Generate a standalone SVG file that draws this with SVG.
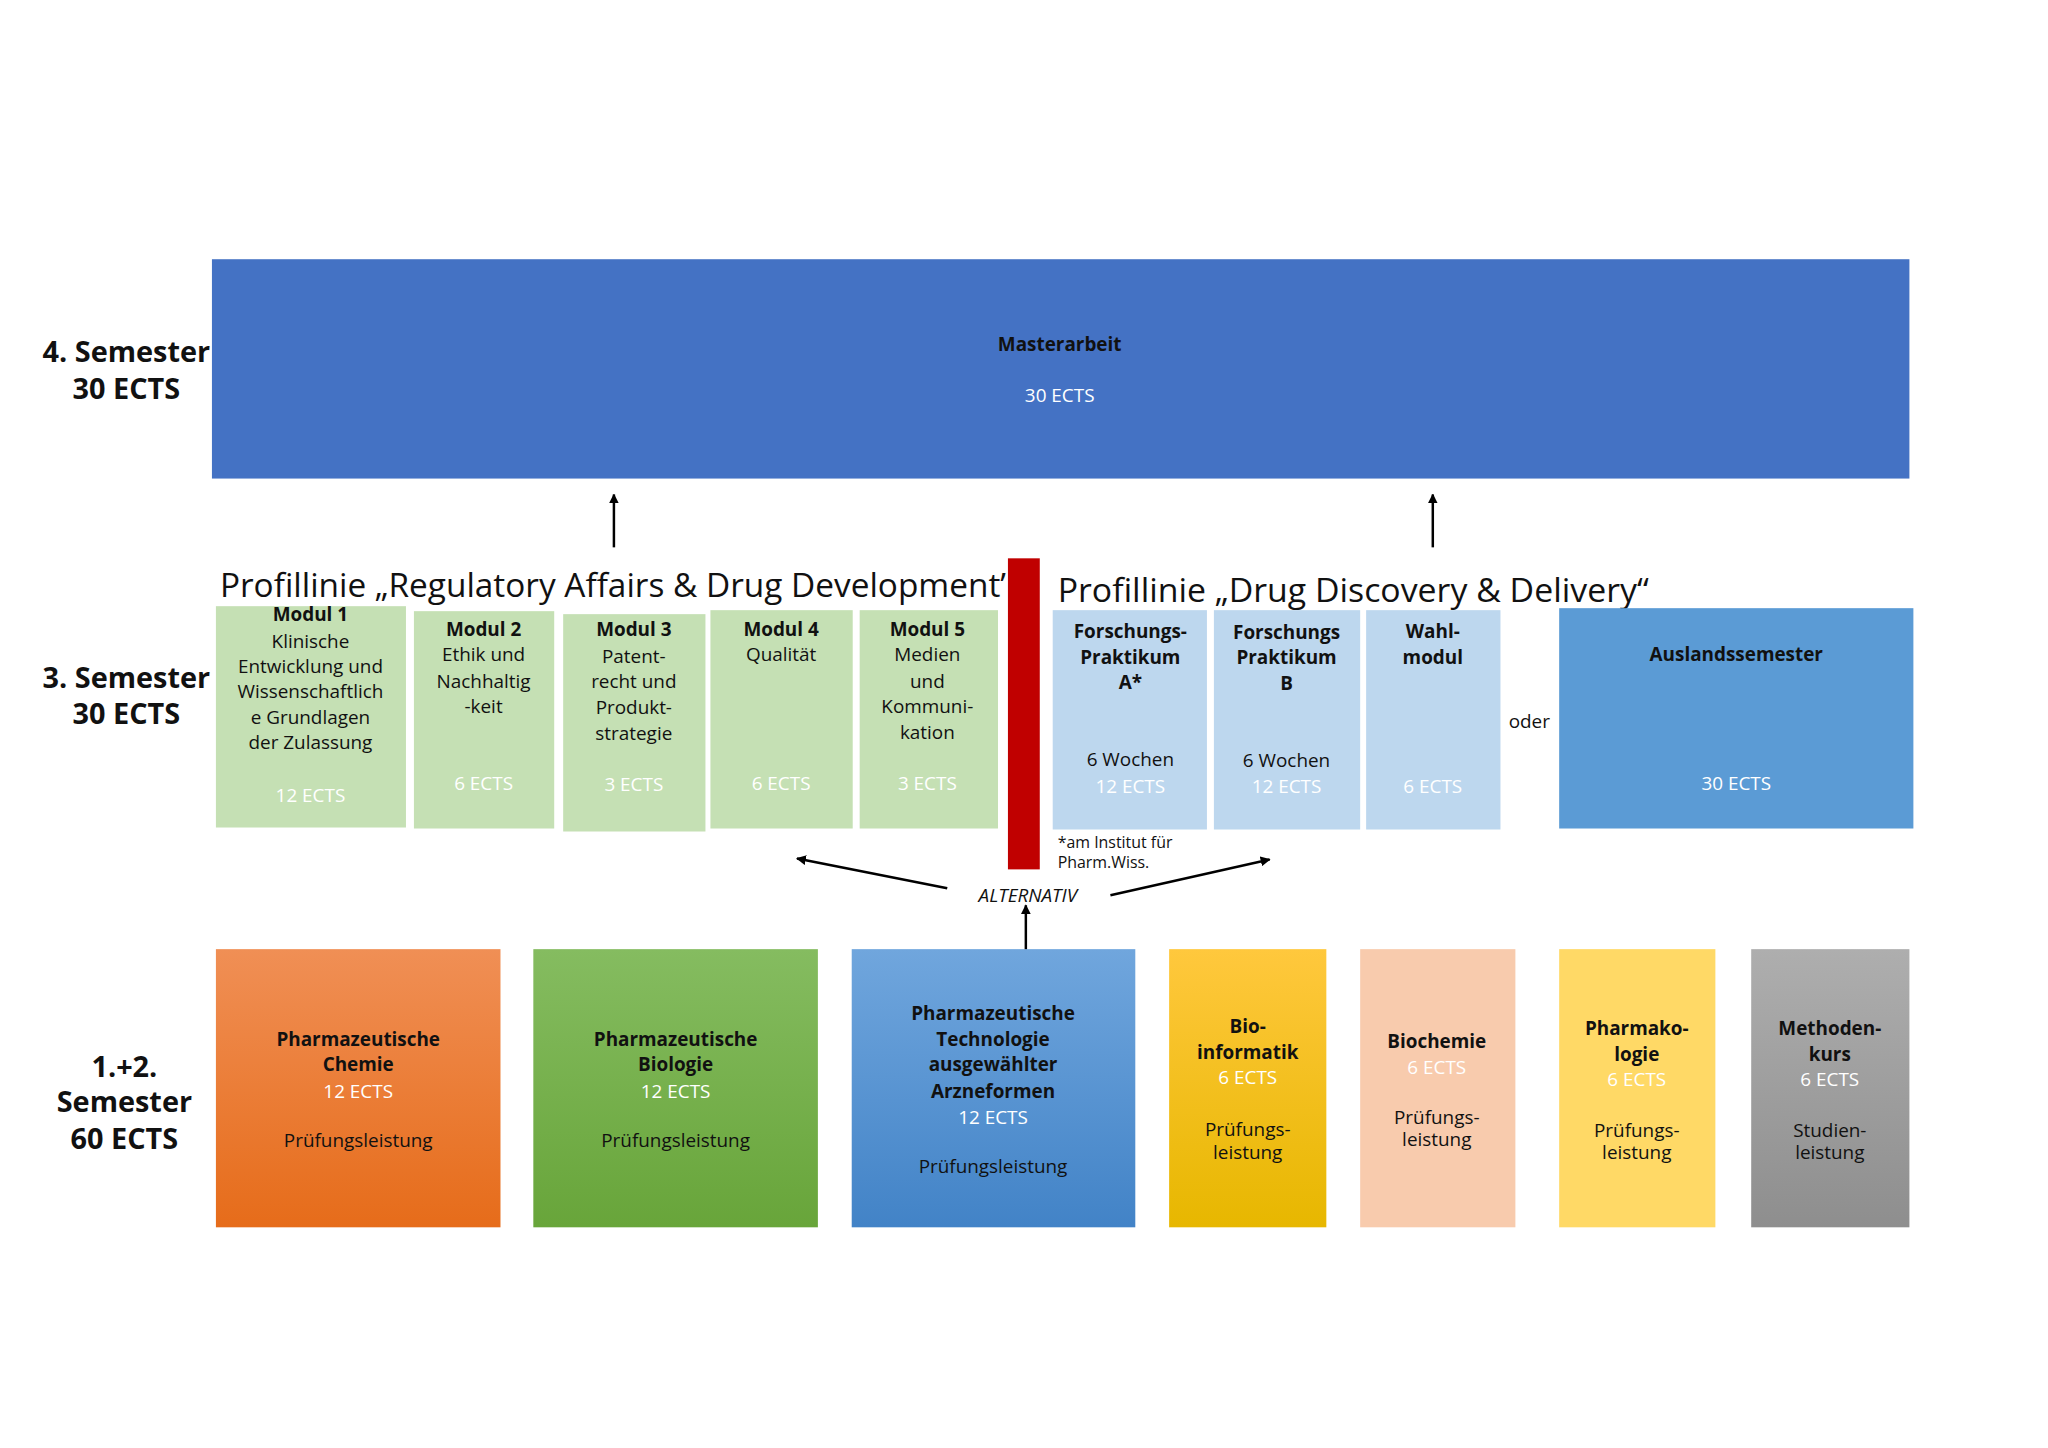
<svg xmlns="http://www.w3.org/2000/svg" width="2048" height="1448" viewBox="0 0 2048 1448">
<style>
text{font-family:"Open Sans","Liberation Sans",sans-serif;text-anchor:middle;dominant-baseline:central;fill:#111}
.t{font-size:19px}
.b{font-weight:bold}
.w{fill:#fff}
.sem{font-size:29px;font-weight:bold}
.title{font-size:33px;text-anchor:start}
.ln{stroke:#000;stroke-width:2.5;fill:none;marker-end:url(#ah)}
</style>
<defs>
<marker id="ah" markerWidth="10" markerHeight="10" refX="9" refY="5" orient="auto" markerUnits="userSpaceOnUse"><path d="M0,0 L10,5 L0,10 z" fill="#000"/></marker>
<linearGradient id="gO" x1="0" y1="0" x2="0" y2="1"><stop offset="0" stop-color="#F08F55"/><stop offset="1" stop-color="#E66C1A"/></linearGradient>
<linearGradient id="gG" x1="0" y1="0" x2="0" y2="1"><stop offset="0" stop-color="#85BC60"/><stop offset="1" stop-color="#68A53A"/></linearGradient>
<linearGradient id="gB" x1="0" y1="0" x2="0" y2="1"><stop offset="0" stop-color="#70A6DD"/><stop offset="1" stop-color="#4283C7"/></linearGradient>
<linearGradient id="gY" x1="0" y1="0" x2="0" y2="1"><stop offset="0" stop-color="#FFC83D"/><stop offset="1" stop-color="#E7B700"/></linearGradient>
<linearGradient id="gS" x1="0" y1="0" x2="0" y2="1"><stop offset="0" stop-color="#AEAEAE"/><stop offset="1" stop-color="#8E8E8E"/></linearGradient>
</defs>
<rect width="2048" height="1448" fill="#fff"/>
<g transform="scale(0.995,0.997)">
<g id="labels">
<text class="sem" x="127" y="352">4. Semester</text><text class="sem" x="127" y="389">30 ECTS</text>
<text class="sem" x="127" y="679">3. Semester</text><text class="sem" x="127" y="715">30 ECTS</text>
<text class="sem" x="125" y="1069">1.+2.</text><text class="sem" x="125" y="1104">Semester</text><text class="sem" x="125" y="1141">60 ECTS</text>
<text class="title" x="221" y="586" textLength="790" lengthAdjust="spacingAndGlyphs">Profillinie „Regulatory Affairs &amp; Drug Development’</text>
<text class="title" x="1063" y="591" textLength="594" lengthAdjust="spacingAndGlyphs">Profillinie „Drug Discovery &amp; Delivery“</text>
<text class="t" x="1537" y="723">oder</text>
<text style="font-size:16px;text-anchor:start" x="1063" y="845">*am Institut für</text>
<text style="font-size:16px;text-anchor:start" x="1063" y="865">Pharm.Wiss.</text>
<text class="t" style="font-style:italic" x="1033" y="898">ALTERNATIV</text>
</g>

<g id="masterarbeit"><rect x="213" y="260" width="1706" height="220" fill="#4472C4"/>
<text class="t b" x="1065" y="345">Masterarbeit</text><text class="t w" x="1065" y="396">30 ECTS</text></g>

<rect id="divider" x="1013" y="560" width="32" height="312" fill="#C00000"/>

<g id="modul1"><rect x="217" y="608" width="191" height="222" fill="#C5E0B4"/>
<text class="t b" x="312" y="616">Modul 1</text><text class="t" x="312" y="643">Klinische</text><text class="t" x="312" y="668">Entwicklung und</text><text class="t" x="312" y="693">Wissenschaftlich</text><text class="t" x="312" y="719">e Grundlagen</text><text class="t" x="312" y="744">der Zulassung</text><text class="t w" x="312" y="797">12 ECTS</text></g>
<g id="modul2"><rect x="416" y="613" width="141" height="218" fill="#C5E0B4"/>
<text class="t b" x="486" y="631">Modul 2</text><text class="t" x="486" y="656">Ethik und</text><text class="t" x="486" y="683">Nachhaltig</text><text class="t" x="486" y="708">-keit</text><text class="t w" x="486" y="785">6 ECTS</text></g>
<g id="modul3"><rect x="566" y="616" width="143" height="218" fill="#C5E0B4"/>
<text class="t b" x="637" y="631">Modul 3</text><text class="t" x="637" y="658">Patent-</text><text class="t" x="637" y="683">recht und</text><text class="t" x="637" y="709">Produkt-</text><text class="t" x="637" y="735">strategie</text><text class="t w" x="637" y="786">3 ECTS</text></g>
<g id="modul4"><rect x="714" y="612" width="143" height="219" fill="#C5E0B4"/>
<text class="t b" x="785" y="631">Modul 4</text><text class="t" x="785" y="656">Qualität</text><text class="t w" x="785" y="785">6 ECTS</text></g>
<g id="modul5"><rect x="864" y="612" width="139" height="219" fill="#C5E0B4"/>
<text class="t b" x="932" y="631">Modul 5</text><text class="t" x="932" y="656">Medien</text><text class="t" x="932" y="683">und</text><text class="t" x="932" y="708">Kommuni-</text><text class="t" x="932" y="734">kation</text><text class="t w" x="932" y="785">3 ECTS</text></g>

<g id="forschA"><rect x="1058" y="612" width="155" height="220" fill="#BDD7EE"/>
<text class="t b" x="1136" y="633">Forschungs-</text><text class="t b" x="1136" y="659">Praktikum</text><text class="t b" x="1136" y="684">A*</text><text class="t" x="1136" y="761">6 Wochen</text><text class="t w" x="1136" y="788">12  ECTS</text></g>
<g id="forschB"><rect x="1220" y="612" width="147" height="220" fill="#BDD7EE"/>
<text class="t b" x="1293" y="634">Forschungs</text><text class="t b" x="1293" y="659">Praktikum</text><text class="t b" x="1293" y="685">B</text><text class="t" x="1293" y="762">6 Wochen</text><text class="t w" x="1293" y="788">12  ECTS</text></g>
<g id="wahl"><rect x="1373" y="612" width="135" height="220" fill="#BDD7EE"/>
<text class="t b" x="1440" y="633">Wahl-</text><text class="t b" x="1440" y="659">modul</text><text class="t w" x="1440" y="788">6  ECTS</text></g>
<g id="ausland"><rect x="1567" y="610" width="356" height="221" fill="#5B9BD5"/>
<text class="t b" x="1745" y="656">Auslandssemester</text><text class="t w" x="1745" y="785">30 ECTS</text></g>

<g id="chemie"><rect x="217" y="952" width="286" height="279" fill="url(#gO)"/>
<text class="t b" x="360" y="1042">Pharmazeutische</text><text class="t b" x="360" y="1067">Chemie</text><text class="t w" x="360" y="1094">12 ECTS</text><text class="t" x="360" y="1143">Prüfungsleistung</text></g>
<g id="biologie"><rect x="536" y="952" width="286" height="279" fill="url(#gG)"/>
<text class="t b" x="679" y="1042">Pharmazeutische</text><text class="t b" x="679" y="1067">Biologie</text><text class="t w" x="679" y="1094">12 ECTS</text><text class="t" x="679" y="1143">Prüfungsleistung</text></g>
<g id="technologie"><rect x="856" y="952" width="285" height="279" fill="url(#gB)"/>
<text class="t b" x="998" y="1016">Pharmazeutische</text><text class="t b" x="998" y="1042">Technologie</text><text class="t b" x="998" y="1067">ausgewählter</text><text class="t b" x="998" y="1094">Arzneformen</text><text class="t w" x="998" y="1120">12 ECTS</text><text class="t" x="998" y="1170">Prüfungsleistung</text></g>
<g id="bioinformatik"><rect x="1175" y="952" width="158" height="279" fill="url(#gY)"/>
<text class="t b" x="1254" y="1029">Bio-</text><text class="t b" x="1254" y="1055">informatik</text><text class="t w" x="1254" y="1080">6 ECTS</text><text class="t" x="1254" y="1132">Prüfungs-</text><text class="t" x="1254" y="1155">leistung</text></g>
<g id="biochemie"><rect x="1367" y="952" width="156" height="279" fill="#F8CBAD"/>
<text class="t b" x="1444" y="1044">Biochemie</text><text class="t w" x="1444" y="1070">6 ECTS</text><text class="t" x="1444" y="1120">Prüfungs-</text><text class="t" x="1444" y="1142">leistung</text></g>
<g id="pharmakologie"><rect x="1567" y="952" width="157" height="279" fill="#FFD966"/>
<text class="t b" x="1645" y="1031">Pharmako-</text><text class="t b" x="1645" y="1057">logie</text><text class="t w" x="1645" y="1082">6 ECTS</text><text class="t" x="1645" y="1133">Prüfungs-</text><text class="t" x="1645" y="1155">leistung</text></g>
<g id="methoden"><rect x="1760" y="952" width="159" height="279" fill="url(#gS)"/>
<text class="t b" x="1839" y="1031">Methoden-</text><text class="t b" x="1839" y="1057">kurs</text><text class="t w" x="1839" y="1082">6 ECTS</text><text class="t" x="1839" y="1133">Studien-</text><text class="t" x="1839" y="1155">leistung</text></g>

<g id="connectors">
<line class="ln" x1="617" y1="549" x2="617" y2="496"/>
<line class="ln" x1="1440" y1="549" x2="1440" y2="496"/>
<line class="ln" x1="1031" y1="952" x2="1031" y2="908"/>
<line class="ln" x1="952" y1="891" x2="801" y2="861"/>
<line class="ln" x1="1116" y1="898" x2="1276" y2="862"/>
</g>
</g>
</svg>
